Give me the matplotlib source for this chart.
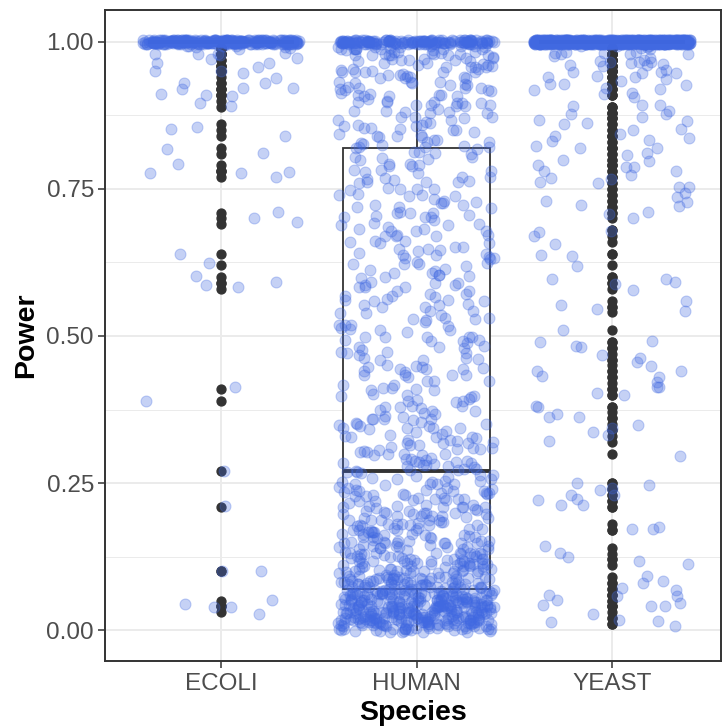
import numpy as np
import matplotlib
matplotlib.use("Agg")
import matplotlib.pyplot as plt

plt.rcParams['font.family'] = ['Liberation Sans', 'DejaVu Sans']

species = ["ECOLI", "HUMAN", "YEAST"]

# ECOLI: power values below 1 and how often each occurs, plus the count at 1.00
ecoli_vals = [0.99, 0.98, 0.97, 0.96, 0.95, 0.94, 0.93, 0.92, 0.91, 0.90, 0.89,
              0.86, 0.85, 0.84, 0.82, 0.81, 0.79, 0.78, 0.77, 0.71, 0.70, 0.69,
              0.64, 0.62, 0.60, 0.59, 0.58, 0.41, 0.39, 0.27, 0.21, 0.10, 0.05,
              0.04, 0.03]
ecoli_counts = [8, 5, 2, 3, 3, 1, 2, 3, 3, 1, 1,
                1, 1, 1, 1, 1, 1, 3, 1, 1, 1, 1,
                1, 1, 1, 2, 1, 1, 1, 1, 1, 2, 1,
                3, 1]
ecoli_at_one = 250

# HUMAN: counts on a 0.01 grid from 0.00 to 1.00
human_counts = ([27, 44, 48, 50, 48, 44, 38] +                       # 0.00 - 0.06
                [30, 27, 24, 21, 19, 17, 16, 15, 14, 13,
                 13, 12, 12, 11, 11, 10, 10, 9, 9, 7] +              # 0.07 - 0.26
                [8] * 5 + [7] * 5 + [5] * 44 +                       # 0.27 - 0.80
                [4] +                                                # 0.81
                [7] + [6] * 7 + [8] * 5 + [10] * 3 + [14, 18] +      # 0.82 - 0.99
                [151])                                               # 1.00

# YEAST: power values below 1 and how often each occurs, plus the count at 1.00
yeast_vals = [0.99, 0.98, 0.97, 0.96, 0.95, 0.94, 0.93, 0.92, 0.91,
              0.89, 0.88, 0.87, 0.86, 0.85, 0.84, 0.83, 0.82, 0.81, 0.80,
              0.79, 0.78, 0.77, 0.76, 0.75, 0.74, 0.73, 0.72, 0.71, 0.70,
              0.68, 0.67, 0.66, 0.64, 0.62, 0.60, 0.59, 0.58, 0.56, 0.55, 0.54, 0.51,
              0.49, 0.48, 0.47, 0.46, 0.45, 0.44, 0.43, 0.42, 0.41, 0.40,
              0.38, 0.37, 0.36, 0.35, 0.34, 0.33, 0.32, 0.30,
              0.25, 0.24, 0.23, 0.22, 0.21, 0.18, 0.17, 0.14, 0.13, 0.12, 0.11,
              0.09, 0.08, 0.07, 0.06, 0.05, 0.04, 0.03, 0.02, 0.01]
yeast_counts = [6, 8, 6, 5, 5, 4, 4, 3, 3,
                3, 3, 3, 2, 2, 3, 2, 3, 2, 2,
                3, 2, 3, 2, 2, 2, 2, 2, 2, 1,
                2, 1, 1, 2, 1, 2, 2, 1, 1, 2, 1, 1,
                2, 2, 1, 2, 1, 2, 2, 1, 2, 2,
                2, 1, 2, 1, 2, 1, 1, 1,
                2, 2, 2, 2, 2, 1, 2, 1, 1, 2, 1,
                1, 2, 2, 3, 2, 3, 1, 2, 2]
yeast_at_one = 600

grid = np.round(np.arange(101) * 0.01, 2)
ecoli = np.sort(np.concatenate([np.repeat(ecoli_vals, ecoli_counts), np.ones(ecoli_at_one)]))
human = np.sort(np.repeat(grid, human_counts))
yeast = np.sort(np.concatenate([np.repeat(yeast_vals, yeast_counts), np.ones(yeast_at_one)]))
data = [ecoli, human, yeast]


def hash01(n, salt):
    # deterministic scatter in [0, 1) used for the jitter offsets
    v = np.sin(n * 12.9898 + salt * 78.233) * 43758.5453
    return v - np.floor(v)


fig = plt.figure(figsize=(7.22, 7.28), dpi=100)
ax = fig.add_axes([105 / 722, 67 / 728, 616 / 722, 651 / 728])

dark = '#333333'
ax.boxplot(data, positions=[1, 2, 3], widths=0.75, whis=1.5, patch_artist=True,
           boxprops=dict(facecolor='white', edgecolor=dark, linewidth=1.3),
           medianprops=dict(color=dark, linewidth=2.8),
           whiskerprops=dict(color=dark, linewidth=1.3),
           capprops=dict(linewidth=0),
           flierprops=dict(marker='o', markerfacecolor=dark, markeredgecolor=dark,
                           markersize=6.4),
           zorder=2)

# jitter: width 0.4 horizontally, 0.004 vertically
for k, vals in enumerate(data):
    idx = np.arange(len(vals)) + 1.0
    dx = hash01(idx, 3 * k + 1) * 0.8 - 0.4
    dy = hash01(idx, 3 * k + 2) * 0.008 - 0.004
    ax.scatter(k + 1 + dx, vals + dy, s=62, color='#4169E1', alpha=0.3,
               linewidths=0.8, zorder=3)

ax.set_xlim(0.407, 3.557)
ax.set_ylim(-0.0527, 1.0544)
ax.set_xticks([1, 2, 3])
ax.set_xticklabels(species)
ax.set_yticks([0, 0.25, 0.5, 0.75, 1.0])
ax.set_yticklabels(['0.00', '0.25', '0.50', '0.75', '1.00'])
ax.set_yticks([0.125, 0.375, 0.625, 0.875], minor=True)

ax.grid(True, which='major', color='#EBEBEB', linewidth=1.4, zorder=0)
ax.grid(True, which='minor', axis='y', color='#EBEBEB', linewidth=0.7, zorder=0)
ax.set_axisbelow(True)

for sp in ax.spines.values():
    sp.set_color(dark)
    sp.set_linewidth(1.4)

ax.tick_params(which='major', length=5, width=1.1, color=dark, labelcolor='#4D4D4D',
               labelsize=17.5, pad=3)
ax.tick_params(axis='x', pad=4)
ax.tick_params(which='minor', length=0)

ax.set_xlabel('Species', fontsize=20.5, fontweight='bold', labelpad=3)
ax.set_ylabel('Power', fontsize=20.5, fontweight='bold', labelpad=5)

fig.savefig('out.png', dpi=100)
